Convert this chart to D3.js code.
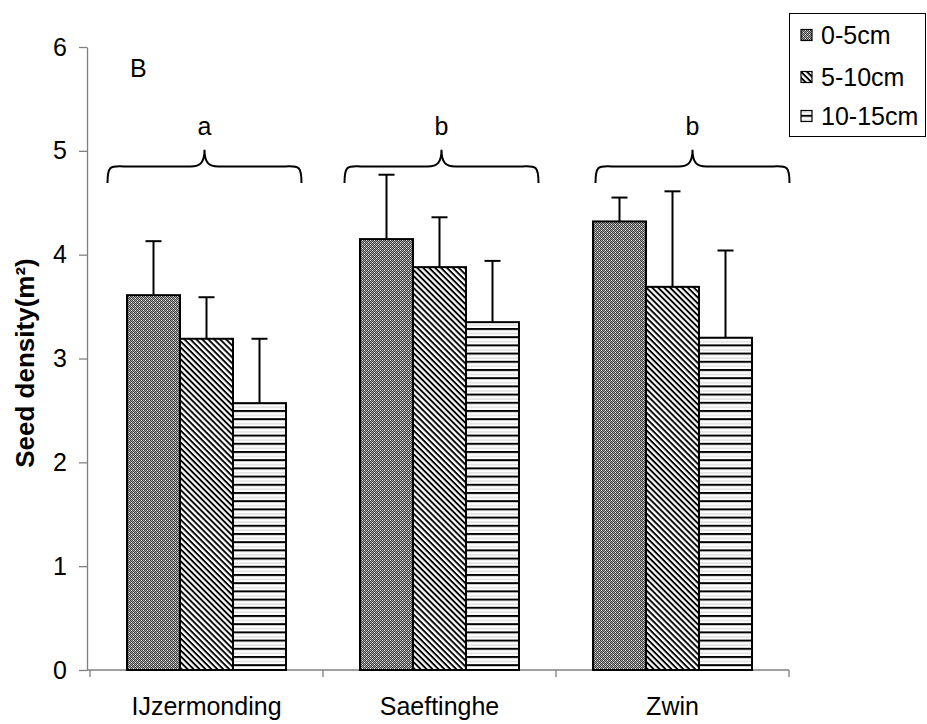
<!DOCTYPE html>
<html>
<head>
<meta charset="utf-8">
<script src="https://cdn.jsdelivr.net/npm/d3@7"></script>
<style>
  html, body { margin: 0; padding: 0; background: #fff; }
  svg { display: block; font-family: "Liberation Sans", Arial, Helvetica, sans-serif; }
</style>
</head>
<body>
<svg id="chart" width="927" height="724"></svg>
<script>
// ---- data ----
const sites = ["IJzermonding", "Saeftinghe", "Zwin"];
const depths = ["0-5cm", "5-10cm", "10-15cm"];
const means = [
  [3.61, 3.19, 2.57],
  [4.15, 3.88, 3.35],
  [4.32, 3.69, 3.20]
];
const errTops = [
  [4.13, 3.59, 3.19],
  [4.77, 4.36, 3.94],
  [4.55, 4.61, 4.04]
];
const groupLetters = ["a", "b", "b"];
const yTicks = [0, 1, 2, 3, 4, 5, 6];
const panelLabel = "B";
const yTitle = "Seed density(m²)";

// ---- layout ----
const svg = d3.select("#chart");
const axisColor = "#808080";
const y = d3.scaleLinear().domain([0, 6]).range([670, 47]);
const x = d3.scaleBand().domain(sites).range([90, 789]).padding(0);
const bw = x.bandwidth();
const barW = 53;
const xs = d3.scaleBand().domain(depths)
  .range([bw / 2 - 1.5 * barW, bw / 2 + 1.5 * barW]).padding(0);

// ---- patterns ----
const defs = svg.append("defs");
const p0 = defs.append("pattern").attr("id", "pat0").attr("patternUnits", "userSpaceOnUse")
  .attr("width", 4).attr("height", 4);
for (let i = 0; i < 4; i++) for (let j = 0; j < 4; j++) {
  let c = ((i + j) % 2 === 0) ? "#3a3a3a" : "#a8a8a8";
  if (i === 1 && j === 2) c = "#fff";
  if (i === 3 && j === 0) c = "#fff";
  p0.append("rect").attr("x", i).attr("y", j).attr("width", 1).attr("height", 1).attr("fill", c);
}
const p1 = defs.append("pattern").attr("id", "pat1").attr("patternUnits", "userSpaceOnUse")
  .attr("width", 4.2).attr("height", 4.2).attr("patternTransform", "rotate(45)");
p1.append("rect").attr("width", 4.2).attr("height", 4.2).attr("fill", "#fff");
p1.append("rect").attr("width", 4.2).attr("height", 1.9).attr("fill", "#000");
const p2 = defs.append("pattern").attr("id", "pat2").attr("patternUnits", "userSpaceOnUse")
  .attr("width", 8).attr("height", 8.2);
p2.append("rect").attr("width", 8).attr("height", 8.2).attr("fill", "#fff");
p2.append("rect").attr("y", 0).attr("width", 8).attr("height", 2).attr("fill", "#000");
p2.append("rect").attr("y", 5).attr("width", 8).attr("height", 1).attr("fill", "#d0d0d0");
const fills = ["url(#pat0)", "url(#pat1)", "url(#pat2)"];

// ---- axes ----
const yAxis = d3.axisLeft(y).tickValues(yTicks).tickFormat(d3.format("d"))
  .tickSize(8).tickSizeOuter(0).tickPadding(12);
const gy = svg.append("g").attr("transform", "translate(87,0)").call(yAxis);
gy.select(".domain").attr("stroke", axisColor).attr("stroke-width", 1.3);
gy.selectAll(".tick line").attr("stroke", axisColor).attr("stroke-width", 1.3);
gy.selectAll(".tick text").attr("font-size", 25).attr("fill", "#000")
  .attr("font-family", "Liberation Sans, Arial, sans-serif");

svg.append("line").attr("x1", 87).attr("x2", x.range()[1])
  .attr("y1", y(0)).attr("y2", y(0)).attr("stroke", axisColor).attr("stroke-width", 1.3);
const bounds = sites.map(s => x(s)).concat([x(sites[sites.length - 1]) + bw]);
svg.selectAll(".xtick").data(bounds).join("line").attr("class", "xtick")
  .attr("x1", d => d).attr("x2", d => d).attr("y1", y(0)).attr("y2", y(0) + 7)
  .attr("stroke", axisColor).attr("stroke-width", 1.3);
const xAxis = d3.axisBottom(x).tickSize(0).tickPadding(27);
const gx = svg.append("g").attr("transform", `translate(0,${y(0)})`).call(xAxis);
gx.select(".domain").remove();
gx.selectAll(".tick text").attr("font-size", 25).attr("fill", "#000")
  .attr("font-family", "Liberation Sans, Arial, sans-serif");

// ---- bars ----
const groups = svg.selectAll(".grp").data(sites).join("g").attr("class", "grp")
  .attr("transform", d => `translate(${x(d)},0)`);
groups.each(function (site, si) {
  const g = d3.select(this);
  depths.forEach((dep, di) => {
    const v = means[si][di];
    g.append("rect")
      .attr("x", xs(dep)).attr("width", xs.bandwidth())
      .attr("y", y(v)).attr("height", y(0) - y(v))
      .attr("fill", fills[di]).attr("stroke", "#000").attr("stroke-width", 2);
  });
  depths.forEach((dep, di) => {
    const cx = xs(dep) + xs.bandwidth() / 2;
    const v = means[si][di], t = errTops[si][di];
    g.append("line").attr("x1", cx).attr("x2", cx).attr("y1", y(v)).attr("y2", y(t))
      .attr("stroke", "#000").attr("stroke-width", 2);
    g.append("line").attr("x1", cx - 8).attr("x2", cx + 8).attr("y1", y(t)).attr("y2", y(t))
      .attr("stroke", "#000").attr("stroke-width", 2);
  });
});

// ---- braces and letters ----
const braceShift = [-2, 2, 20];
const braceHalf = 97;
const yEnd = y(4.69), yLine = y(4.85), yTip = y(5.01);
sites.forEach((s, i) => {
  const cx = x(s) + bw / 2 + braceShift[i];
  const x0 = cx - braceHalf, x1 = cx + braceHalf, r = 16, r2 = 14;
  const p = `M${x0},${yEnd} C${x0},${yLine - 2} ${x0 + 4},${yLine} ${x0 + r},${yLine}
    L${cx - r2},${yLine} C${cx - 4},${yLine} ${cx},${yLine - 4} ${cx},${yTip}
    C${cx},${yLine - 4} ${cx + 4},${yLine} ${cx + r2},${yLine}
    L${x1 - r},${yLine} C${x1 - 4},${yLine} ${x1},${yLine - 2} ${x1},${yEnd}`;
  svg.append("path").attr("d", p).attr("fill", "none").attr("stroke", "#000").attr("stroke-width", 2);
  svg.append("text").attr("x", cx).attr("y", y(5.15)).attr("text-anchor", "middle")
    .attr("font-size", 25).text(groupLetters[i]);
});

// ---- panel label & y title ----
svg.append("text").attr("x", 130).attr("y", 77).attr("font-size", 25).text(panelLabel);
svg.append("text").attr("transform", "translate(34,363) rotate(-90)")
  .attr("text-anchor", "middle").attr("font-size", 26).attr("font-weight", "bold").text(yTitle);

// ---- legend ----
const lg = svg.append("g");
lg.append("rect").attr("x", 789.5).attr("y", 13.5).attr("width", 136).attr("height", 123)
  .attr("fill", "#fff").attr("stroke", "#000").attr("stroke-width", 1);
const rowsY = [35, 77, 116];
depths.forEach((d, i) => {
  lg.append("rect").attr("x", 801).attr("y", rowsY[i] - 5.5).attr("width", 11).attr("height", 11)
    .attr("fill", fills[i]).attr("stroke", "#000").attr("stroke-width", 1.2);
  lg.append("text").attr("x", 821).attr("y", rowsY[i]).attr("dy", "0.36em")
    .attr("font-size", 25).text(d);
});
</script>
</body>
</html>
